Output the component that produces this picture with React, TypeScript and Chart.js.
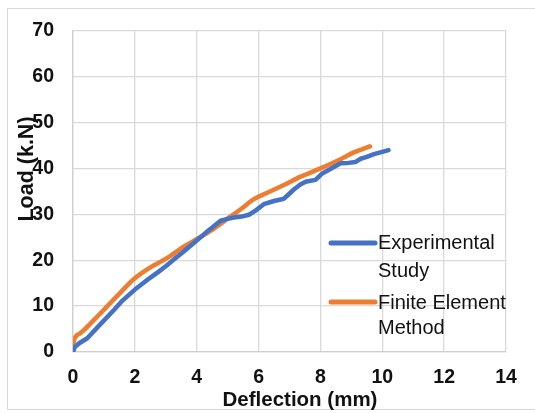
import React, { useEffect, useRef } from "react";
import { Chart, registerables } from "chart.js";

Chart.register(...registerables);

// Experimental Study
const expX = [0, 0.05, 0.2, 0.46, 0.85, 1.33, 1.6, 2.0, 2.4, 2.73, 3.0, 3.27, 3.6, 4.02, 4.4, 4.77, 5.0, 5.2, 5.45, 5.69, 5.9, 6.17, 6.5, 6.82, 6.95, 7.14, 7.35, 7.52, 7.84, 8.06, 8.25, 8.44, 8.65, 8.9, 9.14, 9.3, 9.5, 9.73, 10.0, 10.2];
const expY = [0, 1.0, 1.9, 3.0, 5.8, 9.2, 11.2, 13.6, 15.7, 17.3, 18.7, 20.2, 22.0, 24.4, 26.6, 28.6, 29.0, 29.3, 29.5, 29.9, 30.8, 32.2, 32.9, 33.4, 34.2, 35.4, 36.5, 37.1, 37.5, 38.9, 39.6, 40.3, 41.1, 41.2, 41.4, 42.1, 42.5, 43.1, 43.6, 44.0];

// Finite Element Method
const femX = [0, 0.03, 0.19, 0.68, 1.11, 1.54, 1.97, 2.4, 3.05, 3.59, 4.13, 4.56, 4.99, 5.42, 5.85, 6.28, 6.82, 7.36, 8.0, 8.65, 9.08, 9.6];
const femY = [0, 2.5, 3.9, 7.0, 10.0, 13.0, 15.9, 18.0, 20.5, 23.0, 25.1, 26.9, 29.0, 31.1, 33.3, 34.7, 36.4, 38.2, 40.0, 42.0, 43.5, 44.8];

const seriesNames = [["Experimental", "Study"], ["Finite Element", "Method"]];
const seriesColors = ["#4472C4", "#ED7D31"];
const xTitle = "Deflection (mm)";
const yTitle = "Load (k.N)";

const FONT = "'Liberation Sans', Arial, sans-serif";
const TEXT = "#111111";

export default function App() {
  const ref = useRef<HTMLCanvasElement | null>(null);

  useEffect(() => {
    const canvas = ref.current;
    if (!canvas) return;

    const overlay = {
      id: "overlay",
      afterDraw(chart: any) {
        const { ctx, chartArea } = chart;
        ctx.save();
        // x title
        ctx.fillStyle = TEXT;
        ctx.font = `bold 20.5px ${FONT}`;
        ctx.textAlign = "center";
        ctx.textBaseline = "alphabetic";
        ctx.fillText(xTitle, 300, 406);
        // y title
        ctx.save();
        ctx.translate(33, 169);
        ctx.rotate(-Math.PI / 2);
        ctx.font = `bold 21.5px ${FONT}`;
        ctx.textAlign = "center";
        ctx.fillText(yTitle, 0, 0);
        ctx.restore();
        // legend
        const lx1 = chartArea.right - 175;
        const lx2 = chartArea.right - 131;
        const tx = chartArea.right - 128;
        const rows = [
          { lineY: 243, base: [249, 276.5] },
          { lineY: 302, base: [309, 334] },
        ];
        ctx.font = `20px ${FONT}`;
        ctx.textAlign = "left";
        rows.forEach((r, i) => {
          ctx.strokeStyle = seriesColors[i];
          ctx.lineWidth = 5;
          ctx.lineCap = "round";
          ctx.beginPath();
          ctx.moveTo(lx1, r.lineY);
          ctx.lineTo(lx2, r.lineY);
          ctx.stroke();
          ctx.fillStyle = TEXT;
          seriesNames[i].forEach((t, j) => ctx.fillText(t, tx, r.base[j]));
        });
        ctx.restore();
      },
    };

    const tickFont = { family: FONT, size: 19.5, weight: "bold" as const };

    const chart = new Chart(canvas, {
      type: "scatter",
      data: {
        datasets: [
          {
            label: seriesNames[0].join(" "),
            data: expX.map((x, i) => ({ x, y: expY[i] })),
            showLine: true,
            borderColor: seriesColors[0],
            backgroundColor: seriesColors[0],
            borderWidth: 4.5,
            pointRadius: 0,
            borderCapStyle: "round",
            borderJoinStyle: "round",
          },
          {
            label: seriesNames[1].join(" "),
            data: femX.map((x, i) => ({ x, y: femY[i] })),
            showLine: true,
            borderColor: seriesColors[1],
            backgroundColor: seriesColors[1],
            borderWidth: 4.5,
            pointRadius: 0,
            cubicInterpolationMode: "monotone",
            borderCapStyle: "round",
            borderJoinStyle: "round",
          },
        ],
      },
      options: {
        responsive: false,
        animation: false,
        devicePixelRatio: 1,
        layout: { padding: { left: 0, right: 29, top: 22, bottom: 0 } },
        plugins: { legend: { display: false }, tooltip: { enabled: false } },
        scales: {
          x: {
            type: "linear",
            min: 0,
            max: 14,
            ticks: { stepSize: 2, padding: 14, font: tickFont, color: TEXT },
            grid: { color: "#d9d9d9", drawTicks: false, lineWidth: 1.3 },
            border: { color: "#cfcfcf", width: 1.3 },
            afterFit: (s: any) => {
              s.height = 61;
            },
          },
          y: {
            type: "linear",
            min: 0,
            max: 70,
            ticks: { stepSize: 10, padding: 19, font: tickFont, color: TEXT },
            grid: { color: "#d9d9d9", drawTicks: false, lineWidth: 1.3 },
            border: { color: "#cfcfcf", width: 1.3 },
            afterFit: (s: any) => {
              s.width = 73;
            },
          },
        },
      },
      plugins: [overlay],
    });
    return () => chart.destroy();
  }, []);

  return (
    <>
      <div
        style={{
          position: "fixed",
          left: 7,
          top: 8,
          width: 535,
          height: 402,
          border: "1px solid #d9d9d9",
          boxSizing: "border-box",
        }}
      />
      <canvas
        ref={ref}
        width={535}
        height={413}
        style={{ position: "fixed", left: 0, top: 0, width: 535, height: 413, display: "block" }}
      />
    </>
  );
}
